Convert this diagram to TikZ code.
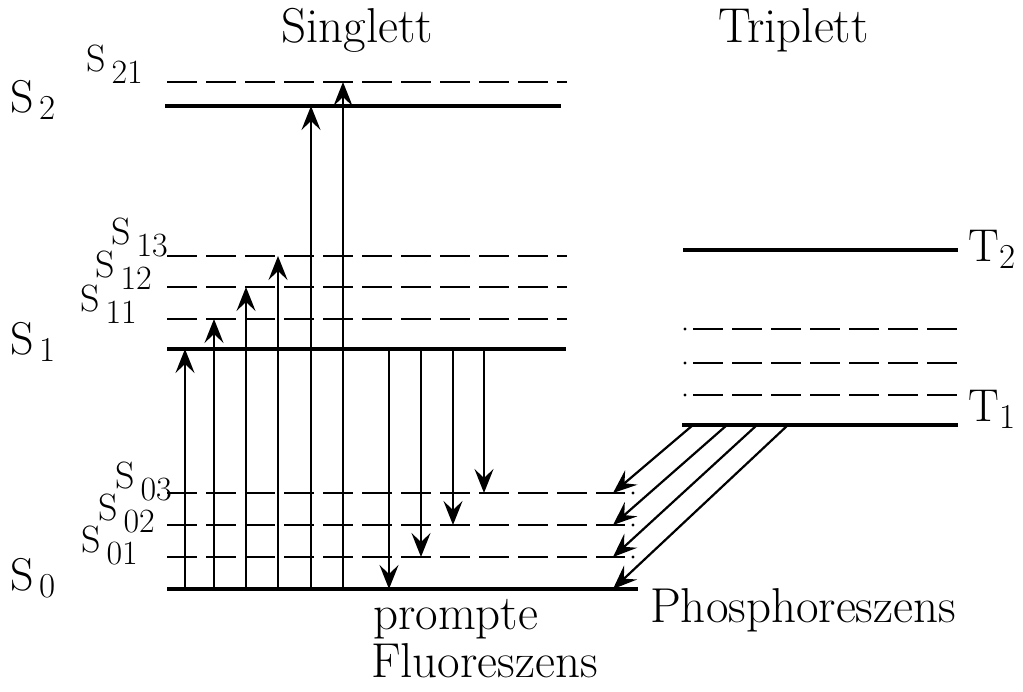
\documentclass[tikz,border=0pt]{standalone}
\usepackage{tikz}
\usetikzlibrary{arrows.meta,positioning}

\newcommand{\biglev}[3]{\fontsize{46}{50}\selectfont #1\hspace{#3}\raisebox{-7pt}{\fontsize{35}{38}\selectfont #2}}
\newcommand{\smalllev}[2]{\fontsize{38}{42}\selectfont #1\hspace{6pt}\raisebox{-12pt}{\fontsize{34}{38}\selectfont #2}}

\begin{document}
\begin{tikzpicture}[x=1pt, y=-1pt, >={Stealth[length=24pt,width=19pt,inset=9pt]},
  lvl/.style={line width=3.6pt},
  sub/.style={line width=2.4pt, dash pattern=on 30pt off 9pt},
  tr/.style={->, line width=2.2pt},
  lbl/.style={inner sep=0pt, anchor=base west},
  ttl/.style={lbl, font=\fontsize{49}{58}\selectfont}]
\useasboundingbox (0,0) rectangle (1023,692);
% singlet levels
\coordinate (S21) at (167,82);  \coordinate (S21e) at (567,82);
\coordinate (S2)  at (165,106); \coordinate (S2e)  at (561,106);
\coordinate (S13) at (167,256); \coordinate (S13e) at (567,256);
\coordinate (S12) at (167,287); \coordinate (S12e) at (567,287);
\coordinate (S11) at (167,319); \coordinate (S11e) at (567,319);
\coordinate (S1)  at (167,349); \coordinate (S1e)  at (566,349);
\coordinate (S03) at (167,493); \coordinate (S03e) at (625,493);
\coordinate (S02) at (167,525); \coordinate (S02e) at (625,525);
\coordinate (S01) at (167,557); \coordinate (S01e) at (625,557);
\coordinate (S0)  at (167,589); \coordinate (S0e)  at (638,589);
% triplet levels
\coordinate (T2) at (683,250); \coordinate (T2e) at (958,250);
\coordinate (T13) at (693,329); \coordinate (T13e) at (958,329);
\coordinate (T12) at (693,363); \coordinate (T12e) at (958,363);
\coordinate (T11) at (693,395); \coordinate (T11e) at (958,395);
\coordinate (T1) at (682,425); \coordinate (T1e) at (958,425);

\foreach \n in {S2,S1,S0,T2,T1} \draw[lvl] (\n) -- (\n e);
\foreach \n in {S21,S13,S12,S11,S03,S02,S01,T13,T12,T11} \draw[sub] (\n) -- (\n e);
\foreach \n in {S03,S02,S01} \fill ([xshift=8pt]\n e) circle (1.6pt);
\foreach \n in {T13,T12,T11} \fill ([xshift=-8pt]\n) circle (1.6pt);

% absorption
\foreach \x/\t in {185/S1,214/S11,246/S12,278/S13,311/S2,343/S21}
  \draw[tr] (\x,0 |- S0) -- (\x,0 |- \t);
% fluorescence
\foreach \x/\t in {389/S0,421/S01,453/S02,484/S03}
  \draw[tr] (\x,0 |- S1) -- (\x,0 |- \t);
% phosphorescence
\foreach \x/\t in {693/S03,727/S02,757/S01,788/S0}
  \draw[tr] (\x,0 |- T1) -- (613,0 |- \t);

% labels
\node[lbl] (lS2) at (10,113) {\biglev{S}{2}{6pt}};
\node[lbl] (lS1) at (10,355) {\biglev{S}{1}{6pt}};
\node[lbl] (lS0) at (10,590) {\biglev{S}{0}{6pt}};
\node[lbl] (lT2) at (968,262) {\biglev{T}{2}{1pt}};
\node[lbl] (lT1) at (968,422) {\biglev{T}{1}{1pt}};
\node[lbl] (lS21) at (86,72) {\smalllev{S}{21}};
\node[lbl] (lS13) at (111,245) {\smalllev{S}{13}};
\node[lbl] (lS12) at (95,278) {\smalllev{S}{12}};
\node[lbl] (lS11) at (80,312) {\smalllev{S}{11}};
\node[lbl] (lS03) at (115,488) {\smalllev{S}{03}};
\node[lbl] (lS02) at (98,520) {\smalllev{S}{02}};
\node[lbl] (lS01) at (81,552) {\smalllev{S}{01}};

\node[ttl] (sing) at (281,43) {Singlett};
\node[ttl] (trip) at (718,43) {Triplett};
\node[ttl] (prom) at (373,629) {prompte};
\node[ttl] (fluo) at (371,677) {Fluoreszens};
\node[ttl] (phos) at (650,622) {Phosphoreszens};
\end{tikzpicture}
\end{document}
